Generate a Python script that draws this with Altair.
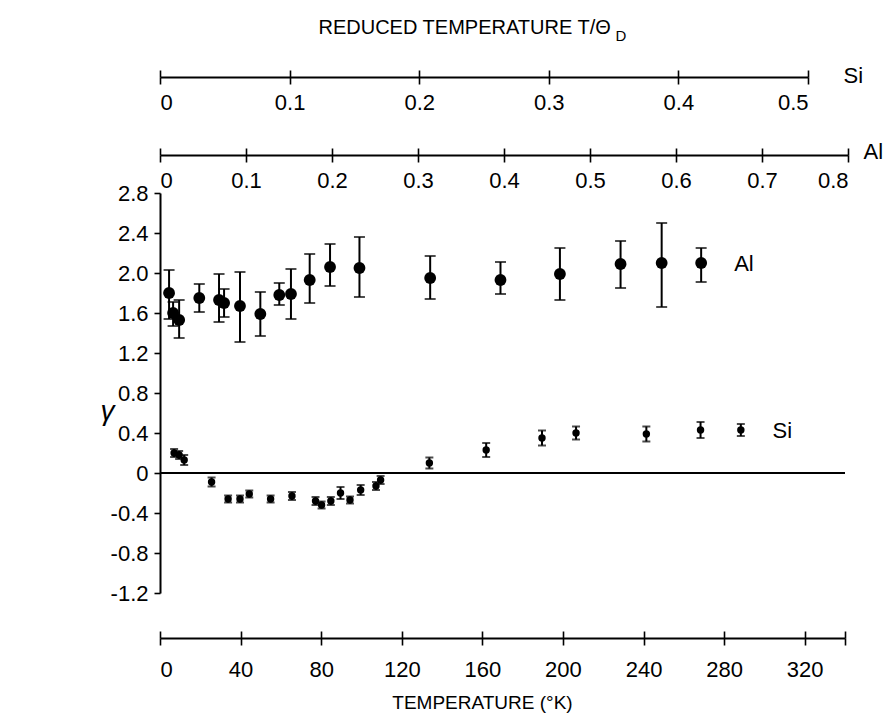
import altair as alt
import pandas as pd

# ---- data ----
al_T = [4.5, 6.5, 9.5, 19.5, 29.3, 31.8, 39.7, 49.8, 59.2, 65.0, 74.3, 84.4, 99.0,
        134.1, 169.0, 198.5, 228.6, 249.0, 268.6]
al_g = [1.80, 1.60, 1.53, 1.75, 1.73, 1.70, 1.67, 1.59, 1.78, 1.79, 1.93, 2.06, 2.05,
        1.95, 1.93, 1.99, 2.09, 2.10, 2.10]
al_lo = [1.54, 1.47, 1.35, 1.61, 1.51, 1.56, 1.31, 1.37, 1.68, 1.54, 1.70, 1.87, 1.76,
         1.74, 1.79, 1.73, 1.85, 1.66, 1.91]
al_hi = [2.03, 1.71, 1.73, 1.89, 1.99, 1.84, 2.01, 1.81, 1.90, 2.04, 2.19, 2.29, 2.36,
         2.17, 2.11, 2.25, 2.32, 2.50, 2.25]

si_T = [7.0, 9.5, 12.0, 25.6, 33.8, 39.7, 44.3, 54.9, 65.5, 77.2, 80.2, 84.8, 89.6,
        94.3, 99.6, 107.2, 109.5, 133.7, 161.9, 189.6, 206.5, 241.4, 268.3, 288.3]
si_g = [0.20, 0.18, 0.13, -0.09, -0.26, -0.26, -0.21, -0.26, -0.23, -0.28, -0.32, -0.28,
        -0.20, -0.27, -0.17, -0.13, -0.07, 0.10, 0.23, 0.35, 0.40, 0.39, 0.43, 0.43]
si_err = [0.04, 0.04, 0.05, 0.045, 0.035, 0.035, 0.035, 0.035, 0.04, 0.04, 0.035, 0.04,
          0.06, 0.035, 0.05, 0.04, 0.04, 0.055, 0.07, 0.075, 0.065, 0.075, 0.08, 0.06]

temp_ticks = [0, 40, 80, 120, 160, 200, 240, 280, 320, 340]
si_ticks = [0, 0.1, 0.2, 0.3, 0.4, 0.5]
al_ticks = [0, 0.1, 0.2, 0.3, 0.4, 0.5, 0.6, 0.7, 0.8]
y_ticks = [-1.2, -0.8, -0.4, 0, 0.4, 0.8, 1.2, 1.6, 2.0, 2.4, 2.8]

series_labels = ["Al", "Si"]
label_T = [285, 304]
label_g = [2.09, 0.42]

FONT = "Liberation Sans"
LFS = 22
W, H = 685, 400

al = pd.DataFrame({"T": al_T, "g": al_g, "lo": al_lo, "hi": al_hi})
si = pd.DataFrame({"T": si_T, "g": si_g,
                   "lo": [g - e for g, e in zip(si_g, si_err)],
                   "hi": [g + e for g, e in zip(si_g, si_err)]})
lab = pd.DataFrame({"T": label_T, "g": label_g, "name": series_labels})
zero = pd.DataFrame({"T": [0], "T2": [340], "g": [0]})

xs = alt.Scale(domain=[0, 340], nice=False, zero=False)
ys = alt.Scale(domain=[-1.2, 2.8], nice=False, zero=False)

num_expr = "datum.value == 0 ? '0' : replace(format(datum.value, '.1f'), '\u2212', '-')"

ax_t = alt.Axis(orient="bottom", offset=45, values=temp_ticks,
                labelExpr="datum.value == 340 ? '' : datum.label",
                grid=False, tickSize=7, tickWidth=1.6, domainWidth=2, domainColor="black",
                tickColor="black", labelPadding=14, labelFontSize=LFS, labelFont=FONT,
                labelColor="black", title="TEMPERATURE (°K)", titleFont=FONT,
                titleFontSize=19, titleFontWeight="normal", titleColor="black",
                titleX=322, titleY=64, titleAlign="center", titleBaseline="middle")
ax_y = alt.Axis(orient="left", values=y_ticks, labelExpr=num_expr,
                grid=False, tickSize=6, tickWidth=1.6, domainWidth=2, domainColor="black",
                tickColor="black", labelPadding=6, labelFontSize=LFS, labelFont=FONT,
                labelColor="black", title="γ", titleAngle=0, titleFont=FONT,
                titleFontSize=28, titleFontStyle="italic", titleFontWeight="normal",
                titleColor="black", titleX=-53, titleY=218, titleAlign="center",
                titleBaseline="middle")

X = alt.X("T:Q", scale=xs, axis=ax_t)

zero_rule = alt.Chart(zero).mark_rule(color="black", strokeWidth=2).encode(
    x=X, x2="T2:Q", y=alt.Y("g:Q", scale=ys, axis=ax_y))

def series(df, size, cap, sw):
    bar = alt.Chart(df).mark_rule(color="black", strokeWidth=sw).encode(
        x=X, y=alt.Y("lo:Q", scale=ys, axis=ax_y), y2="hi:Q")
    lo = alt.Chart(df).mark_tick(color="black", orient="horizontal", size=cap,
                                 thickness=sw).encode(x=X, y=alt.Y("lo:Q", scale=ys, axis=ax_y))
    hi = alt.Chart(df).mark_tick(color="black", orient="horizontal", size=cap,
                                 thickness=sw).encode(x=X, y=alt.Y("hi:Q", scale=ys, axis=ax_y))
    pts = alt.Chart(df).mark_point(filled=True, color="black", opacity=1, size=size).encode(
        x=X, y=alt.Y("g:Q", scale=ys, axis=ax_y))
    return [bar, lo, hi, pts]

labels = alt.Chart(lab).mark_text(align="left", baseline="middle", font=FONT,
                                  fontSize=LFS, color="black").encode(
    x=X, y=alt.Y("g:Q", scale=ys, axis=ax_y), text="name:N")

main = alt.layer(zero_rule, *series(al, 140, 11, 2), *series(si, 55, 8, 2), labels)

def axis_layer(vals, field, dom, rng, orient, offset, **kw):
    df = pd.DataFrame({field: vals})
    base = dict(orient=orient, offset=offset, values=vals, grid=False, tickSize=7,
                tickWidth=1.6, tickColor="black", domainColor="black", domainWidth=2,
                labelFont=FONT, labelFontSize=LFS, labelColor="black")
    base.update(kw)
    return alt.Chart(df).mark_point(opacity=0, size=1).encode(
        x=alt.X(f"{field}:Q", scale=alt.Scale(domain=dom, range=rng, nice=False, zero=False),
                axis=alt.Axis(**base)))

si_down = axis_layer(si_ticks, "si", [0, 0.5], [0, 648], "bottom", -516,
                     labelPadding=8, domain=False, labelExpr=num_expr,
                     title="Si", titleFont=FONT, titleFontSize=LFS, titleFontWeight="normal",
                     titleColor="black", titleX=683, titleY=-2, titleAlign="left",
                     titleBaseline="middle")
si_up = axis_layer(si_ticks, "si2", [0, 0.5], [0, 648], "top", 116, labels=False,
                   title="REDUCED TEMPERATURE  T/Θ", titleFont=FONT, titleFontSize=20,
                   titleFontWeight="normal", titleColor="black", titleX=158, titleY=-50,
                   titleAlign="left", titleBaseline="middle")
al_down = axis_layer(al_ticks, "al", [0, 0.8], [0, 688], "bottom", -438,
                     labelPadding=8, domain=False, labelExpr=num_expr,
                     title="Al", titleFont=FONT, titleFontSize=LFS, titleFontWeight="normal",
                     titleColor="black", titleX=703, titleY=-4, titleAlign="left",
                     titleBaseline="middle")
al_up = axis_layer(al_ticks, "al2", [0, 0.8], [0, 688], "top", 38, labels=False,
                   title="D", titleFont=FONT, titleFontSize=15, titleFontWeight="normal",
                   titleColor="black", titleX=455, titleY=-120, titleAlign="left",
                   titleBaseline="middle")
t_up = axis_layer(temp_ticks, "t2", [0, 340], [0, W], "top", -445, labels=False,
                  domain=False, title=None)

chart = alt.layer(main, si_down, si_up, al_down, al_up, t_up).resolve_scale(
    x="independent"
).properties(
    width=W, height=H,
    padding={"left": 152, "top": 185, "right": 38, "bottom": 120},
    autosize=alt.AutoSizeParams(type="none"),
    background="white",
).configure_view(stroke=None)

chart.save("out.html", embed_options={"renderer": "svg", "actions": False})
